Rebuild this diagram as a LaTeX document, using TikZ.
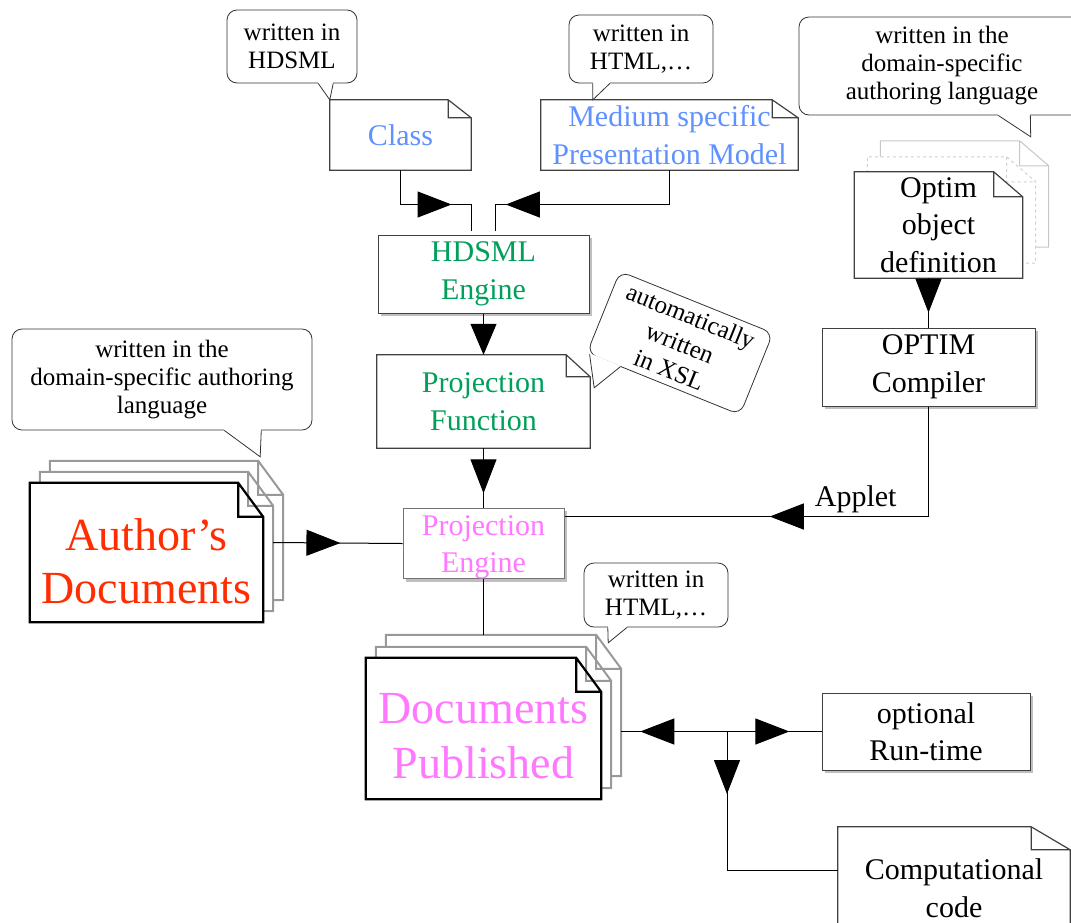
\documentclass[tikz,border=0pt]{standalone}
\usepackage{fontspec}
\setmainfont{Liberation Serif}
\usepackage{tikz}
\usetikzlibrary{
  arrows.meta,
  backgrounds,
  calc,
  decorations.markings,
  shadows,
}
\tikzstyle{wire} = [
  line width=1pt,
  black,
]
\tikzset{
  headat/.style={
    postaction={decorate},
    decoration={markings,
      mark=at position #1 with {\arrow{Triangle[length=34pt,width=26pt]}}},
  },
  dims/.style 2 args={minimum width=#1pt, minimum height=#2pt},
}
\definecolor{classblue}{RGB}{95,145,255}
\definecolor{enginegreen}{RGB}{0,160,90}
\definecolor{projpink}{RGB}{255,120,255}
\definecolor{authorred}{RGB}{255,45,0}

% page with a turned-down corner, drawn behind the node
\newcommand{\dogear}[6]{%
  \begin{pgfonlayer}{background}
  \draw[#1] ([shift={(#3,#4)}]#2.south west) -- ([shift={(#3,#4)}]#2.north west)
    -- ([shift={(#3-#5,#4)}]#2.north east) -- ([shift={(#3,#4+#6)}]#2.north east)
    -- ([shift={(#3,#4)}]#2.south east) -- cycle
    ([shift={(#3-#5,#4)}]#2.north east) |- ([shift={(#3,#4+#6)}]#2.north east);
  \end{pgfonlayer}}
% tail of a speech bubble
\newcommand{\tailto}[4]{%
  \path ($(#1.south west)!#2!(#1.south east)$) coordinate (tail a)
        ($(#1.south west)!#3!(#1.south east)$) coordinate (tail b);
  \fill[white] (tail a) -- (#4) -- (tail b) -- cycle;
  \draw[white, line width=2pt] (tail a) -- (tail b);
  \draw[talkline] (tail a) -- (#4) -- (tail b);}

\begin{document}
\begin{tikzpicture}[x=1pt, y=-1pt,
    font=\fontsize{30}{37.5}\selectfont,
    talkline/.style={draw=black!80, line width=0.8pt},
    talk/.style={talkline, fill=white, rounded corners=10pt, align=center,
                 inner sep=0pt, font=\fontsize{25}{28}\selectfont},
    doc/.style={align=center, inner sep=0pt},
    box/.style={draw=black!75, line width=1pt, fill=white, align=center,
                inner sep=0pt,
                drop shadow={shadow xshift=3pt, shadow yshift=-3pt,
                             fill=black!25, opacity=1}},
    docline/.style={draw=black!75, line width=1.2pt, fill=white},
    frontline/.style={draw=black, line width=2.2pt, fill=white},
    backline/.style={draw=black!40, line width=2pt, fill=white},
    ghostline/.style={draw=black!22, line width=1pt, fill=white},
    ghostdash/.style={draw=black!18, line width=1pt, dashed, fill=white}]
  \useasboundingbox (0,0) rectangle (1071,922);

  % top: class and presentation model
  \node[talk, dims={130}{73}] (hdsmlnote) at (292,46.5) {written in\\HDSML};
  \node[doc, dims={141}{70}, text=classblue] (class) at (400.5,135) {Class};
  \dogear{docline}{class}{0}{0}{23}{18}
  \tailto{hdsmlnote}{0.70}{0.815}{class.north west}

  \node[talk, dims={144}{68}] (htmlnote) at (641,49) {written in\\HTML,…};
  \node[doc, dims={257}{70}, text=classblue] (model) at (669.5,135)
        {Medium specific\\Presentation Model};
  \dogear{docline}{model}{0}{0}{26}{18}
  \tailto{htmlnote}{0.167}{0.285}{$(model.north west)+(52,0)$}

  \node[box, dims={211}{78}, text=enginegreen] (engine) at (483.5,274)
        {HDSML\\Engine};
  \draw[wire, headat=0.65] (class.south) |- ($(engine.north)+(-12,-30)$)
        -- ($(engine.north)+(-12,-4)$);
  \draw[wire, headat=0.845] (model.south) |- ($(engine.north)+(12,-30)$)
        -- ($(engine.north)+(12,-4)$);

  \node[doc, dims={213}{93}, text=enginegreen] (projfun) at (483.5,401.5)
        {Projection\\Function};
  \dogear{docline}{projfun}{0}{0}{24}{22}
  \draw[wire, -{Triangle[length=31pt,width=26pt]}] (engine.south) -- (projfun.north);

  \node[talk, rotate=-22, dims={165}{88}, font=\fontsize{25}{29}\selectfont]
        (xslnote) at (680,343) {automatically\\written\\in XSL};
  \tailto{xslnote}{0.02}{0.22}{$(projfun.north east)+(4,33)$}

  \node[box, draw=black!55, dims={161}{67}, text=projpink] (projeng) at (483.5,543.5)
        {\rule{0pt}{27pt}Projection\\Engine};
  \draw[wire, headat=0.76] (projfun.south) -- (projeng.north);

  % author's documents
  \node[doc, dims={233}{139}, text=authorred, font=\fontsize{46}{53}\selectfont]
        (authors) at (146.5,552.5) {\rule{0pt}{50pt}Author’s\\Documents};
  \dogear{backline}{authors}{20}{-22}{25}{34}
  \dogear{backline}{authors}{10}{-11}{25}{34}
  \dogear{frontline}{authors}{0}{0}{25}{34}
  \node[talk, dims={300}{101}] (authornote) at (162,379.5)
        {written in the\\domain-specific authoring\\language};
  \tailto{authornote}{0.707}{0.83}{$(authors.north east)+(-3,-26)$}
  \draw[wire, headat=0.52] ($(authors.east)+(10,-10)$) -- (projeng.west);

  % optim side
  \node[talk, dims={286}{98}] (dslnote) at (942,66)
        {written in the\\domain-specific\\authoring language};
  \node[doc, dims={168}{106}] (optim) at (938.5,225) {Optim\\object\\definition};
  \dogear{ghostline}{optim}{26}{-31}{29}{25}
  \dogear{ghostdash}{optim}{13}{-15}{29}{25}
  \dogear{docline}{optim}{0}{0}{29}{25}
  \tailto{dslnote}{0.696}{0.808}{$(optim.north east)+(8,-35)$}

  \node[box, dims={213}{78}] (compiler) at (928.5,367) {OPTIM\\Compiler};
  \draw[wire, headat=0.7] (compiler.north |- optim.south) -- (compiler.north);
  \draw[wire, headat=0.567] (compiler.south)
        |- node[pos=0.6, above=3pt, inner sep=0pt] (applet) {Applet}
        ($(projeng.north east)+(0,9)$);

  % published documents
  \node[doc, dims={235}{141}, text=projpink, font=\fontsize{46}{55}\selectfont]
        (published) at (483.5,728.5) {\rule{0pt}{45pt}Documents\\Published};
  \dogear{backline}{published}{20}{-23}{25}{34}
  \dogear{backline}{published}{10}{-11}{25}{34}
  \dogear{frontline}{published}{0}{0}{25}{34}
  \draw[wire] (projeng.south) -- ($(published.north)+(0,-23)$);

  \node[talk, dims={144}{64}] (pubnote) at (656,595) {written in\\HTML,…};
  \tailto{pubnote}{0.167}{0.3}{$(published.north east)+(7,-15)$}

  \node[box, dims={208}{77}] (runtime) at (926,731.5) {optional\\Run-time};
  \node[doc, dims={232}{122}] (code) at (954,888) {Computational\\code};
  \dogear{docline}{code}{0}{0}{39}{23}
  \coordinate (hub) at (727,731.5);
  \draw[wire, headat=0.82] (hub) -- ($(published.east)+(20,3)$);
  \draw[wire, headat=0.66] (hub) -- (runtime.west);
  \draw[wire, headat=0.25] (hub) |- ($(code.north west)+(0,44)$);
\end{tikzpicture}
\end{document}
